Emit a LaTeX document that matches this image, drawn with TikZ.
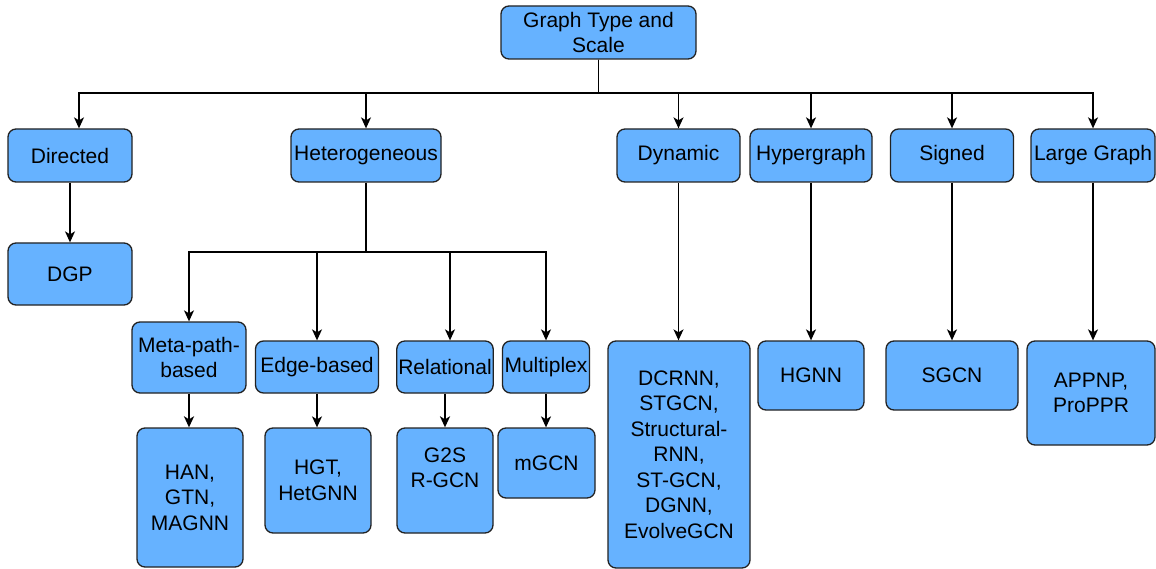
\documentclass[tikz,border=0pt]{standalone}
\usepackage{fontspec}
\setmainfont{Liberation Sans}
\usetikzlibrary{arrows.meta}
\definecolor{boxblue}{HTML}{66B2FF}
\definecolor{boxline}{HTML}{222222}
\begin{document}
\begin{tikzpicture}[x=1pt,y=-1pt,
  box/.style={draw=boxline, fill=boxblue, line width=1.3pt, rounded corners=8pt,
    align=center, inner sep=1.5pt, font=\fontsize{21}{25.5}\selectfont},
  link/.style={line width=1.3pt, -{Stealth[length=11pt,width=10pt,inset=3pt]}},
  heavy/.style={line width=2.4pt}]
\useasboundingbox (0,0) rectangle (1156,569);

% root and first level
\node[box, minimum width=195pt, minimum height=53pt] (root) at (598.5,32.5) {Graph Type and\\Scale};
\node[box, minimum width=124pt, minimum height=53pt] (dir) at (70,155.5) {Directed};
\node[box, minimum width=150pt, minimum height=53pt] (het) at (366,155.5) {Heterogeneous};
\node[box, minimum width=123pt, minimum height=53pt] (dyn) at (678.5,155.5) {Dynamic};
\node[box, minimum width=122pt, minimum height=53pt] (hyp) at (811,155.5) {Hypergraph};
\node[box, minimum width=123pt, minimum height=53pt] (sig) at (952,155.5) {Signed};
\node[box, minimum width=124pt, minimum height=53pt] (lg) at (1093,155.5) {Large Graph};

% heterogeneous sub-types
\node[box, minimum width=114pt, minimum height=71pt] (meta) at (189,357.5) {Meta-path-\\based};
\node[box, minimum width=123pt, minimum height=52pt] (edge) at (317,367) {Edge-based};
\node[box, minimum width=96pt, minimum height=52pt] (rel) at (445,367) {Relational};
\node[box, minimum width=87pt, minimum height=52pt] (mul) at (546,367) {Multiplex};

% models
\node[box, minimum width=124pt, minimum height=62pt] (dgp) at (70,274) {DGP};
\node[box, minimum width=106pt, minimum height=139pt] (han) at (190,497.5) {HAN,\\GTN,\\MAGNN};
\node[box, minimum width=106pt, minimum height=105pt] (hgt) at (318,480.5) {HGT,\\HetGNN};
\node[box, minimum width=96pt, minimum height=105pt, text depth=26pt] (g2s) at (445,480.5) {G2S\\R-GCN};
\node[box, minimum width=97pt, minimum height=70pt] (mgcn) at (546.5,463) {mGCN};
\node[box, minimum width=142pt, minimum height=227pt] (dcr) at (679,454.5)
  {DCRNN,\\STGCN,\\Structural-\\RNN,\\ST-GCN,\\DGNN,\\EvolveGCN};
\node[box, minimum width=106pt, minimum height=69pt] (hgnn) at (811,375.5) {HGNN};
\node[box, minimum width=132pt, minimum height=69pt] (sgcn) at (952,375.5) {SGCN};
\node[box, minimum width=128pt, minimum height=104pt] (appnp) at (1091,393) {APPNP,\\ProPPR};

% bus from the root
\coordinate (bus) at (599,93);
\coordinate (dirdrop) at ([xshift=9pt]dir.north);
\draw[link] (root.south) |- (bus -| dirdrop) -- (dirdrop);
\foreach \n in {het,dyn,hyp,sig,lg}
  \draw[link] (root.south) |- (bus -| \n.north) -- (\n.north);

% bus below Heterogeneous
\coordinate (hbus) at (366,252);
\coordinate (reldrop) at ([xshift=5pt]rel.north);
\draw[heavy] (het.south) -- (hbus);
\draw[link] (hbus) -| (reldrop);
\foreach \n in {meta,edge,mul}
  \draw[link] (hbus) -| (\n.north);

% single-child links
\draw[link] (dir.south) -- (dgp.north);
\draw[link, line width=2.2pt] (meta.south) -- (meta.south |- han.north);
\draw[link] (edge.south) -- (edge.south |- hgt.north);
\draw[link, line width=2.2pt] (rel.south) -- (g2s.north);
\draw[link] (mul.south) -- (mul.south |- mgcn.north);
\draw[link] (dyn.south) -- (dyn.south |- dcr.north);
\draw[link] (hyp.south) -- (hgnn.north);
\draw[link] (sig.south) -- (sgcn.north);
\draw[link] (lg.south) -- (lg.south |- appnp.north);
\end{tikzpicture}
\end{document}
